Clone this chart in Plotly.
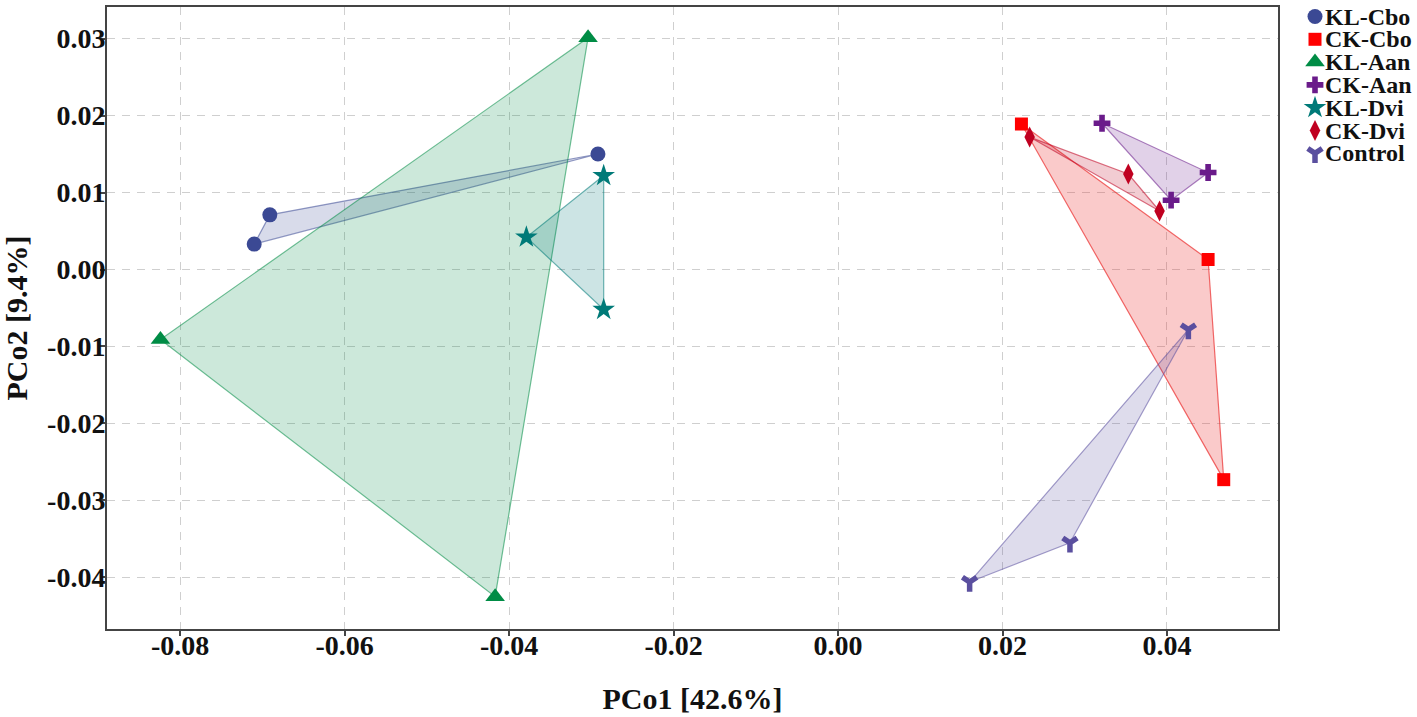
import plotly.graph_objects as go

# --- Data ---
groups = ["KL-Cbo", "CK-Cbo", "KL-Aan", "CK-Aan", "KL-Dvi", "CK-Dvi", "Control"]

kl_cbo_x = [-0.0292, -0.0691, -0.0710]
kl_cbo_y = [0.0150, 0.0071, 0.0033]
ck_cbo_x = [0.0223, 0.0450, 0.0469]
ck_cbo_y = [0.0189, 0.0013, -0.0273]
kl_aan_x = [-0.0304, -0.0824, -0.0417]
kl_aan_y = [0.0301, -0.0091, -0.0425]
ck_aan_x = [0.0321, 0.0450, 0.0405]
ck_aan_y = [0.0190, 0.0126, 0.0090]
kl_dvi_x = [-0.0285, -0.0379, -0.0285]
kl_dvi_y = [0.0122, 0.0042, -0.0052]
ck_dvi_x = [0.0233, 0.0353, 0.0391]
ck_dvi_y = [0.0172, 0.0124, 0.0076]
control_x = [0.0426, 0.0282, 0.0160]
control_y = [-0.0078, -0.0355, -0.0406]

x_ticks = [-0.08, -0.06, -0.04, -0.02, 0.00, 0.02, 0.04]
x_tick_labels = ["-0.08", "-0.06", "-0.04", "-0.02", "0.00", "0.02", "0.04"]
y_ticks = [0.03, 0.02, 0.01, 0.00, -0.01, -0.02, -0.03, -0.04]
y_tick_labels = ["0.03", "0.02", "0.01", "0.00", "-0.01", "-0.02", "-0.03", "-0.04"]

points = {
    "KL-Cbo": (kl_cbo_x, kl_cbo_y),
    "CK-Cbo": (ck_cbo_x, ck_cbo_y),
    "KL-Aan": (kl_aan_x, kl_aan_y),
    "CK-Aan": (ck_aan_x, ck_aan_y),
    "KL-Dvi": (kl_dvi_x, kl_dvi_y),
    "CK-Dvi": (ck_dvi_x, ck_dvi_y),
    "Control": (control_x, control_y),
}

# --- Styles ---
COLORS = {
    "KL-Cbo": "#3B4994",
    "CK-Cbo": "#FF0000",
    "KL-Aan": "#008C45",
    "CK-Aan": "#6A1B8A",
    "KL-Dvi": "#007A78",
    "CK-Dvi": "#C00020",
    "Control": "#5A4F9F",
}
FILLS = {
    "KL-Cbo": "rgba(59,73,148,0.2)",
    "CK-Cbo": "rgba(235,45,45,0.25)",
    "KL-Aan": "rgba(0,140,69,0.2)",
    "CK-Aan": "rgba(106,27,138,0.2)",
    "KL-Dvi": "rgba(0,122,120,0.2)",
    "CK-Dvi": "rgba(192,0,32,0.2)",
    "Control": "rgba(90,79,159,0.2)",
}
EDGES = {
    "KL-Cbo": "rgba(59,73,148,0.55)",
    "CK-Cbo": "rgba(235,45,45,0.7)",
    "KL-Aan": "rgba(0,140,69,0.55)",
    "CK-Aan": "rgba(106,27,138,0.55)",
    "KL-Dvi": "rgba(0,122,120,0.55)",
    "CK-Dvi": "rgba(192,0,32,0.55)",
    "Control": "rgba(90,79,159,0.55)",
}
SYMBOLS = {
    "KL-Cbo": "circle",
    "CK-Cbo": "square",
    "KL-Aan": "triangle-up",
    "CK-Aan": "cross",
    "KL-Dvi": "star",
    "CK-Dvi": "diamond-tall",
    "Control": "y-down",
}
SIZES = {
    "KL-Cbo": 15, "CK-Cbo": 13, "KL-Aan": 17, "CK-Aan": 14,
    "KL-Dvi": 17, "CK-Dvi": 15, "Control": 12,
}

FONT = "Liberation Serif"
W, H = 1417, 717
L, R, T, B = 107, 1278, 7, 629   # plot frame in pixels

fig = go.Figure()


def marker_style(g):
    m = dict(symbol=SYMBOLS[g], size=SIZES[g], color=COLORS[g], line=dict(width=0))
    if g == "Control":
        m["line"] = dict(width=5.5, color=COLORS[g])
    return m


# 1. group polygons
for g in groups:
    xs, ys = points[g]
    fig.add_trace(go.Scatter(
        x=xs + xs[:1], y=ys + ys[:1],
        mode="lines", fill="toself",
        fillcolor=FILLS[g], line=dict(color=EDGES[g], width=1.2),
        hoverinfo="skip", showlegend=False,
    ))

# 2. sample points
for g in groups:
    xs, ys = points[g]
    fig.add_trace(go.Scatter(
        x=xs, y=ys, mode="markers", name=g,
        marker=marker_style(g), showlegend=False,
    ))

# 3. hand-made legend on a pixel-scaled helper axis (tight row spacing)
row0, step = 16.5, 22.8
for i, g in enumerate(groups):
    fig.add_trace(go.Scatter(
        x=[1315], y=[row0 + i * step], xaxis="x2", yaxis="y2",
        mode="markers", marker=marker_style(g),
        hoverinfo="skip", showlegend=False, cliponaxis=False,
    ))
    fig.add_annotation(
        x=1323, y=row0 + i * step, xref="x2", yref="y2",
        text=g, showarrow=False, xanchor="left", yanchor="middle",
        font=dict(family=FONT, size=24, color="#111", weight="bold"),
    )

split = (R - L) / (W - L)
axis_common = dict(
    showline=True, linecolor="#444", linewidth=2, mirror=True,
    ticks="outside", ticklen=5, tickwidth=1.5, tickcolor="#444",
    showgrid=True, gridcolor="#CFCFCF", gridwidth=1, griddash="8px,7px",
    zeroline=False,
    tickfont=dict(family=FONT, size=28, color="#111", weight="bold"),
)

fig.update_layout(
    width=W, height=H,
    paper_bgcolor="white", plot_bgcolor="white",
    margin=dict(l=L, r=0, t=T, b=H - B),
    xaxis=dict(
        axis_common, domain=[0, split], range=[-0.0889, 0.0535],
        tickvals=x_ticks, ticktext=x_tick_labels, ticklabelstandoff=-15,
        title=dict(text="PCo1 [42.6%]", standoff=28,
                   font=dict(family=FONT, size=30, color="#111", weight="bold")),
    ),
    yaxis=dict(
        axis_common, range=[-0.0467, 0.0341],
        tickvals=y_ticks, ticktext=y_tick_labels, ticklabelstandoff=-11,
        title=dict(text="PCo2 [9.4%]", standoff=20,
                   font=dict(family=FONT, size=30, color="#111", weight="bold")),
    ),
    xaxis2=dict(domain=[split, 1], range=[R, W], visible=False, anchor="y2"),
    yaxis2=dict(domain=[0, 1], range=[B, T], visible=False, anchor="x2"),
    showlegend=False,
)

fig.write_html(
    "out.html",
    config={"displayModeBar": False},
    post_script="document.body.style.margin='0';document.body.style.overflow='hidden';",
)
